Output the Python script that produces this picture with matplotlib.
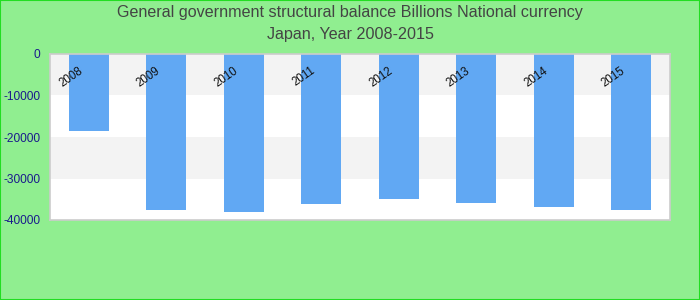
import numpy as np
import matplotlib.pyplot as plt
import matplotlib.transforms as mtransforms

# data
years = ['2008', '2009', '2010', '2011', '2012', '2013', '2014', '2015']
balance = [-18500, -37500, -38000, -36100, -34900, -35800, -36800, -37700]
y_ticks = [0, -10000, -20000, -30000, -40000]

plt.rcParams['font.family'] = ['Liberation Sans', 'DejaVu Sans']

fig = plt.figure(figsize=(7, 3), dpi=100, facecolor='#90ee90')
ax = fig.add_axes([50 / 700, 80 / 300, 620 / 700, 166 / 300])

# outer border around the figure
fig.patches.append(plt.Rectangle((0, 0), 1, 1, transform=fig.transFigure,
                                 fill=False, edgecolor='#22dd22', linewidth=1.5))

x = np.arange(len(years))
ax.set_xlim(-0.5, len(years) - 0.5)
ax.set_ylim(-40000, 0)

# alternating bands
for i in range(len(y_ticks) - 1):
    if i % 2 == 0:
        ax.axhspan(y_ticks[i + 1], y_ticks[i], color='#f3f3f3', zorder=0, lw=0)

ax.bar(x, balance, width=0.52, color='#61a8f3', zorder=2)

# year labels drawn inside the plot near the top
trans = mtransforms.blended_transform_factory(ax.transData, ax.transAxes)
for xi, label in zip(x, years):
    ax.text(xi - 0.23, 0.862, label, transform=trans, rotation=35,
            ha='center', va='center', fontsize=8.3, color='#111111', zorder=3)

ax.set_xticks([])
ax.set_yticks(y_ticks)
ax.set_yticklabels([str(v) for v in y_ticks])
ax.tick_params(axis='y', length=0, pad=7, labelsize=8.6, labelcolor='#1a1a8c')

for s in ax.spines.values():
    s.set_color('#cccccc')
    s.set_linewidth(1.2)

fig.text(0.5, 1 - 13 / 300, 'General government structural balance Billions National currency',
         ha='center', va='center', fontsize=11.6, color='#444444')
fig.text(0.5, 1 - 35 / 300, 'Japan, Year 2008-2015',
         ha='center', va='center', fontsize=11.6, color='#444444')

plt.savefig('out.png', dpi=100, facecolor=fig.get_facecolor())
